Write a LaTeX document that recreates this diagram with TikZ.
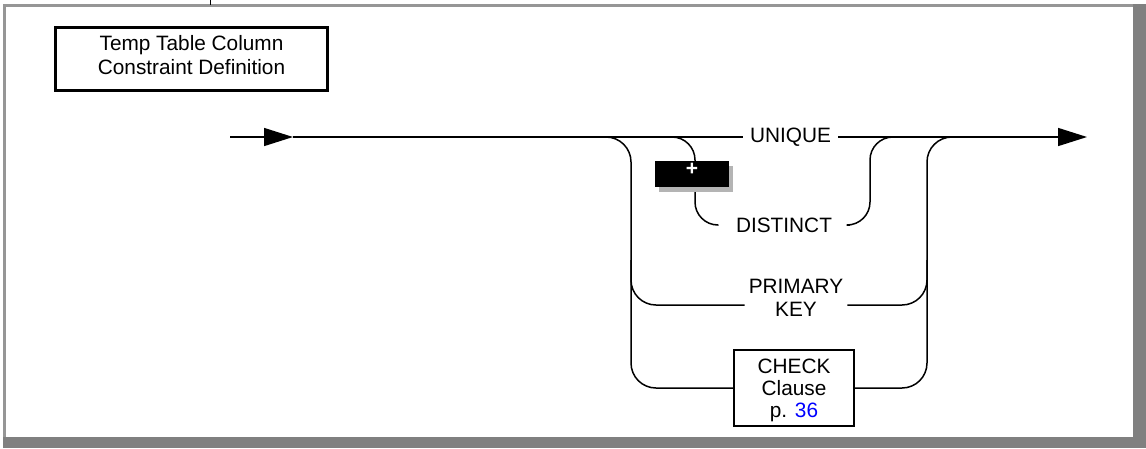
\documentclass[tikz,border=0pt]{standalone}
\usepackage{fontspec}
\setmainfont{Liberation Sans}
\usetikzlibrary{arrows.meta}
\definecolor{bandg}{RGB}{128,128,128}
\definecolor{thing}{RGB}{150,150,150}
\definecolor{shadowg}{RGB}{180,180,180}
\definecolor{linkblue}{RGB}{0,0,255}
\begin{document}
\begin{tikzpicture}[x=1pt,y=-1pt,
  rail/.style={line width=1.5pt,line join=round},
  railarrow/.style={rail,-{Triangle[length=29pt,width=18pt]}},
  railbend/.style={rail,rounded corners=25pt},
  lbl/.style={inner ysep=2pt,font=\fontsize{20.8}{22.5}\selectfont,align=center},
  boxnode/.style={draw,line width=2.4pt,inner sep=0pt,font=\fontsize{20.8}{22}\selectfont,align=center}]
\useasboundingbox (0,0) rectangle (1146,448);
% frame
\fill[white] (0,0) rectangle (1146,448);
\draw[thing,line width=3pt] (3,5.5) -- (1146,5.5);
\draw[thing,line width=3pt] (4.5,4) -- (4.5,448);
\fill[bandg] (1133,4) rectangle (1146,448);
\fill[bandg] (3,437) rectangle (1146,448);
\draw[black,line width=1pt] (210.5,0) -- (210.5,5);
% title
\node[boxnode,minimum width=272,minimum height=63] (title) at (191.5,59) {};
\node[inner sep=0pt,font=\fontsize{20.8}{23.5}\selectfont,align=center] (titletext) at (191.5,55) {Temp Table Column\\Constraint Definition};
% coordinates
\coordinate (in) at (230,137);
\coordinate (mid) at (293,137);
\coordinate (out) at (1087,137);
\coordinate (lx) at (631,137);
\coordinate (rx) at (927,137);
\coordinate (ulx) at (695,137);
\coordinate (urx) at (870,137);
% labels
\node[lbl,inner xsep=7pt] (unique) at (790.5,137) {UNIQUE};
\node[lbl,inner xsep=18pt] (distinct) at (784,225) {DISTINCT};
\node[lbl,inner xsep=4pt] (pk) at (796,298) {PRIMARY\\KEY};
\coordinate (pky) at (0,305);
\node[boxnode,minimum width=120,minimum height=76] (check) at (794,388) {};
\node[inner sep=0pt,font=\fontsize{20.8}{22}\selectfont,align=center] (checktext) at (794,390) {CHECK\\Clause\\p. \textcolor{linkblue}{36}};
% main line
\draw[railarrow] (in) -- (mid);
\draw[rail] (mid) -- (unique.west);
\draw[railarrow] (unique.east) -- (out);
% outer branches
\draw[railbend] (580,137) -- (lx) -- (lx |- check.west) -- (check.west);
\draw[railbend] (check.east) -- (rx |- check.east) -- (rx) -- (980,137);
\draw[railbend] (631,260) -- (lx |- pky) -- (pk.west |- pky);
\draw[railbend] (pk.east |- pky) -- (rx |- pky) -- (927,260);
% unique / distinct
\draw[rail,rounded corners=23pt] (650,137) -- (ulx) -- (ulx |- distinct.west) -- (distinct.west);
\draw[rail,rounded corners=23pt] (distinct.east) -- (urx |- distinct.east) -- (urx) -- (910,137);
% plus marker
\node[fill=shadowg,minimum width=74,minimum height=26,inner sep=0pt] (plusshadow) at (696,179) {};
\node[fill=black,minimum width=74,minimum height=26,inner sep=0pt] (plusbox) at (692,174) {};
\node[text=white,inner sep=0pt,font=\bfseries\fontsize{21}{21}\selectfont] (plus) at (692,169) {+};
\end{tikzpicture}
\end{document}
